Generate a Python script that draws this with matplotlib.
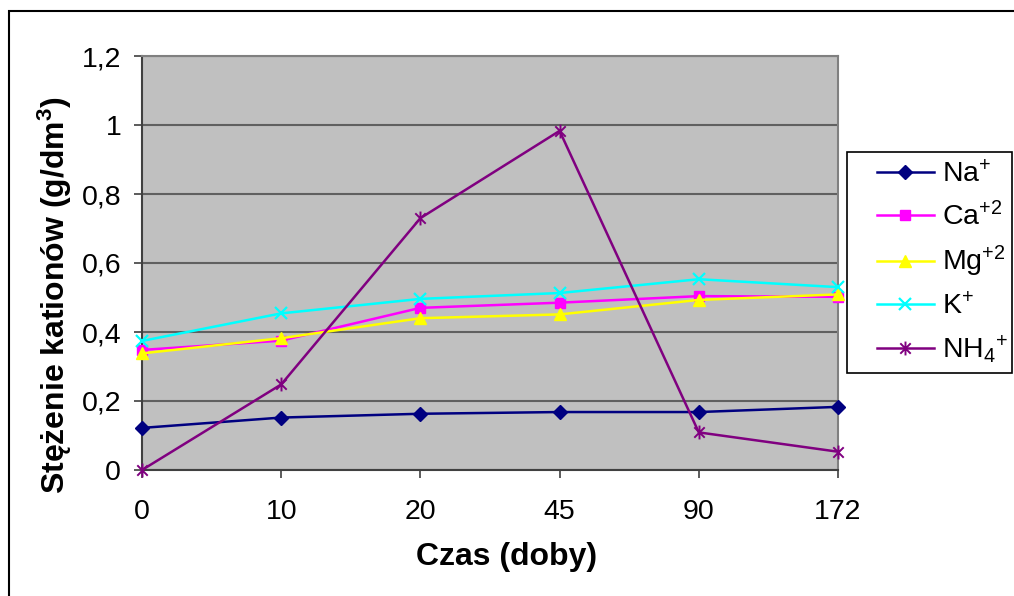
import matplotlib
matplotlib.use("Agg")
import matplotlib.pyplot as plt
from matplotlib.path import Path
from matplotlib.patches import Rectangle

plt.rcParams['font.family'] = ['Liberation Sans', 'DejaVu Sans']
plt.rcParams['mathtext.fontset'] = 'custom'
plt.rcParams['mathtext.rm'] = 'Liberation Sans'
plt.rcParams['mathtext.bf'] = 'Liberation Sans:bold'
plt.rcParams['mathtext.default'] = 'regular'

categories = ["0", "10", "20", "45", "90", "172"]
na = [0.122, 0.152, 0.163, 0.168, 0.168, 0.183]
ca = [0.348, 0.375, 0.470, 0.485, 0.504, 0.502]
mg = [0.338, 0.382, 0.440, 0.451, 0.493, 0.509]
k = [0.374, 0.454, 0.496, 0.513, 0.553, 0.530]
nh4 = [0.0, 0.248, 0.730, 0.983, 0.109, 0.053]
series_labels = ["Na$^{+}$", "Ca$^{+2}$", "Mg$^{+2}$", "K$^{+}$", "NH$_{4}$$^{+}$"]
y_ticks = [0, 0.2, 0.4, 0.6, 0.8, 1.0, 1.2]
y_tick_labels = ["0", "0,2", "0,4", "0,6", "0,8", "1", "1,2"]

W, H = 1014, 596
fig = plt.figure(figsize=(W / 100, H / 100), dpi=100)
fig.patches.append(Rectangle((9 / W, -0.5), 2, 1.5 - 11 / H, transform=fig.transFigure,
                             fill=False, edgecolor='black', linewidth=1.5))
# legend frame
fig.patches.append(Rectangle((847 / W, 1 - 373 / H), (1012 - 847) / W, (373 - 152) / H,
                             transform=fig.transFigure, fill=True, facecolor='white',
                             edgecolor='black', linewidth=1.2, zorder=4))

ax = fig.add_axes([142 / W, 1 - 470 / H, (838 - 142) / W, (470 - 56) / H])
ax.set_facecolor('#C0C0C0')

star = Path([(0, -1), (0, 1), (-0.75, -0.75), (0.75, 0.75), (-0.75, 0.75), (0.75, -0.75)],
            [Path.MOVETO, Path.LINETO, Path.MOVETO, Path.LINETO, Path.MOVETO, Path.LINETO])

x = list(range(len(categories)))
ax.plot(x, na, color='#000080', marker='D', markersize=7, lw=1.8, label=series_labels[0], clip_on=False, zorder=3)
ax.plot(x, ca, color='#FF00FF', marker='s', markersize=7, lw=1.8, label=series_labels[1], clip_on=False, zorder=3)
ax.plot(x, mg, color='#FFFF00', marker='^', markersize=9, lw=1.8, label=series_labels[2], clip_on=False, zorder=3)
ax.plot(x, k, color='#00FFFF', marker='x', markersize=9, mew=1.6, lw=1.8, label=series_labels[3], clip_on=False, zorder=3)
ax.plot(x, nh4, color='#800080', marker=star, markersize=10, mew=1.4, mfc='none', lw=1.8,
        label=series_labels[4], clip_on=False, zorder=3)

ax.set_xlim(0, len(categories) - 1)
ax.set_ylim(0, 1.2)
ax.set_xticks(x)
ax.set_xticklabels(categories)
ax.set_yticks(y_ticks)
ax.set_yticklabels(y_tick_labels)
ax.yaxis.grid(True, color='#606060', lw=1.5)
ax.set_axisbelow(True)
ax.tick_params(axis='both', direction='out', length=6, width=1.2, colors='#404040',
               labelcolor='black', labelsize=20.5)
ax.tick_params(axis='x', pad=15)
ax.tick_params(axis='y', pad=9)
for s in ['left', 'bottom']:
    ax.spines[s].set_color('#404040')
    ax.spines[s].set_linewidth(1.5)
for s in ['right', 'top']:
    ax.spines[s].set_color('#808080')
    ax.spines[s].set_linewidth(1.5)

fig.text(507 / W, 1 - 557 / H, "Czas (doby)", ha='center', va='center', fontsize=23, fontweight='bold')
fig.text(55 / W, 1 - 295 / H, "Stężenie kationów (g/dm$^{\\mathbf{3}}$)", ha='center', va='center',
         rotation=90, fontsize=23, fontweight='bold')

leg = fig.legend(*ax.get_legend_handles_labels(), loc='upper left',
                 bbox_to_anchor=(877 / W, 1 - 161 / H), bbox_transform=fig.transFigure,
                 frameon=False, fontsize=20.5, borderaxespad=0, borderpad=0,
                 handlelength=2.0, handletextpad=0.3, labelspacing=0.47)
leg.set_zorder(5)

fig.savefig("out.png", dpi=100)
